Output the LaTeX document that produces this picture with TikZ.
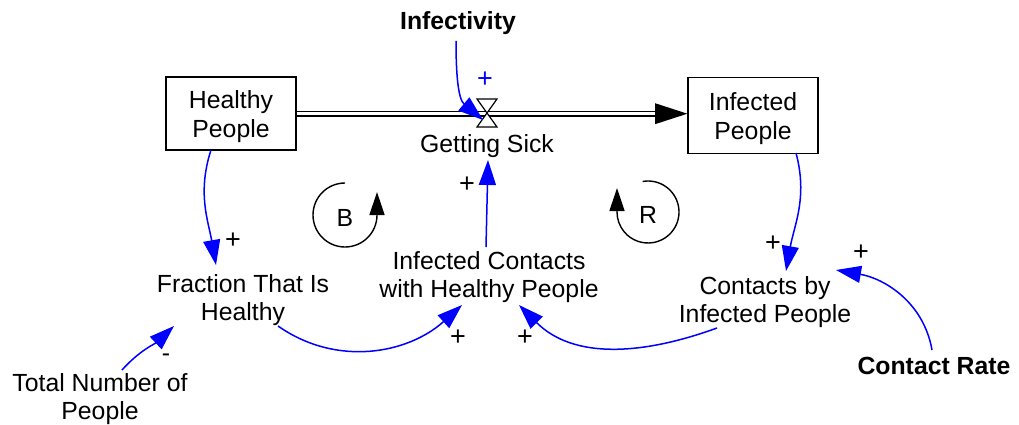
\documentclass[tikz,border=0pt]{standalone}
\usepackage{fontspec}
\setmainfont{Liberation Sans}
\usetikzlibrary{arrows.meta,calc}
\definecolor{linkblue}{RGB}{0,0,255}
\begin{document}
\begin{tikzpicture}[x=1pt,y=1pt,
  txt/.style={font=\fontsize{24.8}{28.5}\selectfont, inner sep=0pt, align=center, yshift=-3pt},
  stock/.style={draw, line width=1.2pt, minimum width=130pt, inner sep=0pt},
  link/.style={linkblue, line width=1.5pt, -{Triangle[length=25pt,width=17pt]}},
  loopline/.style={black, line width=1.4pt, -{Triangle[length=23pt,width=15pt]}},
  keyname/.style={txt, font=\fontsize{24.8}{28.5}\selectfont\bfseries},
  pol/.style={txt, font=\fontsize{27}{28.5}\selectfont},
  ]
\useasboundingbox (0,0) rectangle (1019,-425);
% stocks
\node[stock, minimum height=73pt] (hp) at (231,-113.5) {};
\node[txt] (hpt) at (hp.center) {Healthy\\People};
\node[stock, minimum height=76pt] (ip) at (753,-115.5) {};
\node[txt] (ipt) at (ip.center) {Infected\\People};
% flow pipe
\coordinate (pipeend) at (655,-113.7);
\draw[line width=1.4pt, double distance=3.2pt] (hp.east |- pipeend) -- (pipeend);
\fill (pipeend) ++(0,10.5) -- (ip.west |- pipeend) -- ($(pipeend)+(0,-10.5)$) -- cycle;
% valve
\coordinate (valve) at (487,-113);
\filldraw[fill=white, line width=1.2pt, line join=miter]
  ($(valve)+(-10,14)$) -- ($(valve)+(10,14)$) -- ($(valve)+(-10,-14)$) -- ($(valve)+(10,-14)$) -- cycle;
% variables
\node[txt] (gs) at (487,-143) {Getting Sick};
\node[keyname] (inf) at (458,-20) {Infectivity};
\node[txt] (ich) at (489,-274) {Infected Contacts\\with Healthy People};
\node[txt] (fh) at (243,-297) {Fraction That Is\\Healthy};
\node[txt] (cip) at (765,-299) {Contacts by\\Infected People};
\node[keyname] (cr) at (934,-363) {Contact Rate};
\node[txt] (tnp) at (100,-396) {Total Number of\\People};
% links
\draw[link] ($(inf)+(-2,-18)$) to[out=-90,in=140] ($(valve)+(-4,-7)$);
\draw[link] ($(hp)+(-20,-36.5)$) to[out=-108,in=100] ($(fh)+(-27,35)$);
\draw[link] ($(ip)+(43,-37.5)$) to[out=-75,in=80] ($(cip)+(21,31)$);
\draw[link] ($(cr)+(-2,16)$) to[out=100,in=-10] ($(cip)+(71,32)$);
\draw[link] ($(fh)+(35,-26)$) to[out=-35,in=-138] ($(ich)+(-27,-28)$);
\draw[link] ($(cip)+(-48,-26)$) to[out=-160,in=-45] ($(ich)+(30,-28)$);
\draw[link] ($(ich)+(-3,30)$) -- ($(gs)+(1,-14)$);
\draw[link] ($(tnp)+(22,29)$) to[out=48,in=-137] ($(fh)+(-69,-26)$);
% polarities
\node[pol, text=linkblue] (p0) at (485,-77) {+};
\node[pol] (p1) at (233,-238) {+};
\node[pol] (p2) at (773,-241) {+};
\node[pol] (p3) at (861,-250) {+};
\node[pol] (p4) at (458,-335) {+};
\node[pol] (p5) at (525,-335) {+};
\node[pol] (p6) at (467,-182) {+};
\node[txt] (p7) at (166,-355) {-};
% loop markers
\node[txt] (B) at (345,-215) {B};
\draw[loopline] (345,-183) arc[start angle=90, end angle=360, radius=32] -- ++(0,23);
\node[txt] (R) at (648,-212) {R};
\draw[loopline] ($(648,-212)+(100:31)$) arc[start angle=100, end angle=-180, radius=31] -- ++(0,24);
\end{tikzpicture}
\end{document}
